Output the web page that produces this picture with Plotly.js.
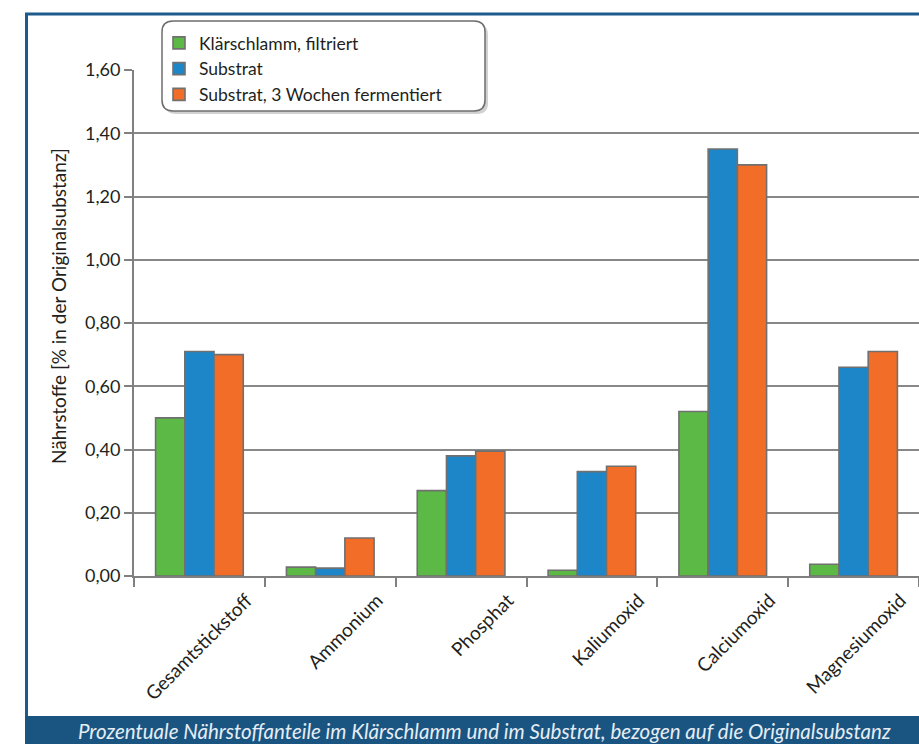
<!DOCTYPE html>
<html>
<head>
<meta charset="utf-8">
<script src="https://cdn.plot.ly/plotly-3.0.1.min.js"></script>
<style>
html,body{margin:0;padding:0;background:#fff;}
#chart{width:919px;height:744px;}
</style>
</head>
<body>
<div id="chart"></div>
<script>
const categories = ["Gesamtstickstoff","Ammonium","Phosphat","Kaliumoxid","Calciumoxid","Magnesiumoxid"];
const seriesNames = ["Klärschlamm, filtriert","Substrat","Substrat, 3 Wochen fermentiert"];
const klaerschlamm = [0.50, 0.028, 0.27, 0.018, 0.52, 0.037];
const substrat = [0.71, 0.025, 0.38, 0.33, 1.35, 0.66];
const fermentiert = [0.70, 0.12, 0.395, 0.347, 1.30, 0.71];
const yTitle = "Nährstoffe [% in der Originalsubstanz]";
const caption = "Prozentuale Nährstoffanteile im Klärschlamm und im Substrat, bezogen auf die Originalsubstanz";

const FONT = "Lato, 'Open Sans', sans-serif";
const W = 919, H = 744;
const M = {l:134, r:0, t:70, b:168, autoexpand:false};
const PW = W - M.l - M.r, PH = H - M.t - M.b;
const px = x => (x - M.l) / PW;
const py = y => (H - M.b - y) / PH;

function roundRect(x0,y0,x1,y1,r){
  const rx = r/PW, ry = r/PH;
  const X0=px(x0), X1=px(x1), Y0=py(y0), Y1=py(y1);
  return `M ${X0+rx},${Y0} L ${X1-rx},${Y0} Q ${X1},${Y0} ${X1},${Y0-ry} L ${X1},${Y1+ry} Q ${X1},${Y1} ${X1-rx},${Y1} L ${X0+rx},${Y1} Q ${X0},${Y1} ${X0},${Y1+ry} L ${X0},${Y0-ry} Q ${X0},${Y0} ${X0+rx},${Y0} Z`;
}

const colors = ["#5cb946","#1d86c8","#f26d28"];
const vals = [klaerschlamm, substrat, fermentiert];
const traces = vals.map((v,i)=>({
  type:"bar", x:categories, y:v, name:seriesNames[i],
  marker:{color:colors[i], line:{color:"#707070", width:1.6}},
  hoverinfo:"skip"
}));

const frameColor = "#1d5b8c";
const layout = {
  width:W, height:H,
  margin:M,
  paper_bgcolor:"#ffffff", plot_bgcolor:"#ffffff",
  separators:",.",
  barmode:"group", bargap:0.33, bargroupgap:0,
  font:{family:FONT, size:16, color:"#231f20"},
  showlegend:true,
  legend:{
    x:px(159), y:py(25), xanchor:"left", yanchor:"top",
    bgcolor:"rgba(0,0,0,0)", borderwidth:0,
    font:{family:FONT, size:17.5, color:"#231f20"},
    traceorder:"normal", tracegroupgap:0
  },
  xaxis:{
    type:"category",
    showline:true, linecolor:"#808080", linewidth:2,
    ticks:"outside", tickson:"boundaries", ticklen:9, tickcolor:"#808080", tickwidth:2,
    tickangle:-45, ticklabelshift:47, ticklabelstandoff:4,
    tickfont:{family:FONT, size:19, color:"#231f20"},
    showgrid:false, zeroline:false, automargin:false, fixedrange:true
  },
  yaxis:{
    range:[0,1.6], dtick:0.2, tickformat:".2f",
    showline:true, linecolor:"#808080", linewidth:2,
    ticks:"outside", ticklen:8, tickcolor:"#808080", tickwidth:2,
    showgrid:true, gridcolor:"#888888", gridwidth:2,
    zeroline:false, automargin:false, fixedrange:true,
    tickfont:{family:FONT, size:18, color:"#231f20"}
  },
  shapes:[
    {type:"line", xref:"paper", yref:"paper", x0:px(26.5), x1:px(26.5), y0:py(13), y1:py(717), line:{color:frameColor, width:3}},
    {type:"line", xref:"paper", yref:"paper", x0:px(25), x1:px(919), y0:py(14), y1:py(14), line:{color:frameColor, width:3}},
    {type:"rect", xref:"paper", yref:"paper", x0:px(25), x1:px(919), y0:py(716), y1:py(744), fillcolor:"#1a5582", line:{width:0}, layer:"above"},
    {type:"path", xref:"paper", yref:"paper", path:roundRect(165,24,488,114,11), fillcolor:"rgba(0,0,0,0.18)", line:{width:0}, layer:"above"},
    {type:"path", xref:"paper", yref:"paper", path:roundRect(162,21,485,111,11), fillcolor:"#ffffff", line:{color:"#6d6d6d", width:1.5}, layer:"above"}
  ],
  annotations:[
    {xref:"paper", yref:"paper", x:px(58), y:py(306), xanchor:"center", yanchor:"middle", textangle:-90,
     text:yTitle, showarrow:false, font:{family:FONT, size:19, color:"#231f20"}},
    {xref:"paper", yref:"paper", x:px(484), y:py(731), xanchor:"center", yanchor:"middle",
     text:"<i>"+caption+"</i>", showarrow:false, font:{family:FONT, size:20.5, color:"#e6edf4"}}
  ]
};

Plotly.newPlot("chart", traces, layout, {displayModeBar:false, staticPlot:true});
</script>
</body>
</html>
